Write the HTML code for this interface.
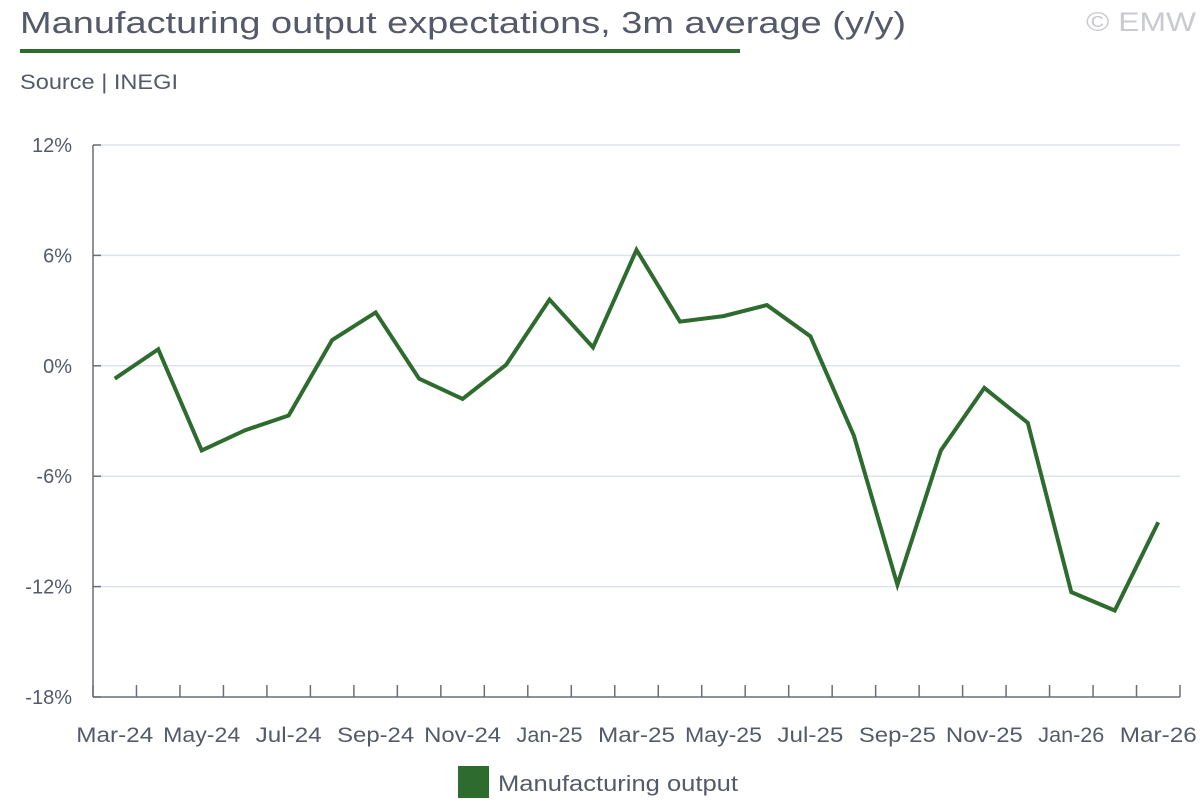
<!DOCTYPE html>
<html><head><meta charset="utf-8"><style>
body{margin:0;background:#fff;width:1200px;height:800px;overflow:hidden;font-family:"Liberation Sans",sans-serif;color:#555a6a}
</style></head><body>
<svg width="1200" height="800" font-family="Liberation Sans, sans-serif">
<text x="20" y="33" font-size="31" fill="#555a6a" textLength="886" lengthAdjust="spacingAndGlyphs">Manufacturing output expectations, 3m average (y/y)</text>
<rect x="20" y="49" width="720" height="4" fill="#2e6b2e"/>
<text x="1086" y="31" font-size="27" fill="#c8cad0" textLength="110" lengthAdjust="spacingAndGlyphs">© EMW</text>
<text x="20" y="89" font-size="21" fill="#555a6a" textLength="158" lengthAdjust="spacingAndGlyphs">Source | INEGI</text>
<g id="grid"></g><g id="axes"></g><g id="series"></g>
<rect x="458" y="766" width="31" height="32" fill="#2e6b2e"/>
<text x="498" y="791" font-size="22" fill="#555a6a" textLength="240" lengthAdjust="spacingAndGlyphs">Manufacturing output</text>
</svg>
<script>
const categories=["Mar-24","Apr-24","May-24","Jun-24","Jul-24","Aug-24","Sep-24","Oct-24","Nov-24","Dec-24","Jan-25","Feb-25","Mar-25","Apr-25","May-25","Jun-25","Jul-25","Aug-25","Sep-25","Oct-25","Nov-25","Dec-25","Jan-26","Feb-26","Mar-26"];
const values=[-0.7,0.9,-4.6,-3.5,-2.7,1.4,2.9,-0.7,-1.8,0.05,3.6,1.0,6.3,2.4,2.7,3.3,1.6,-3.8,-11.9,-4.6,-1.2,-3.1,-12.3,-13.3,-8.5];
const yTicks=[12,6,0,-6,-12,-18];
const NS="http://www.w3.org/2000/svg";
const x0=93,x1=1180,yTop=145,yBot=697,yMax=12,yMin=-18;
const band=(x1-x0)/categories.length;
const xs=i=>x0+band*(i+0.5);
const ys=v=>yTop+(yMax-v)/(yMax-yMin)*(yBot-yTop);
function mk(t,a,p){const e=document.createElementNS(NS,t);for(const k in a)e.setAttribute(k,a[k]);p.appendChild(e);return e;}
const grid=document.getElementById('grid'),axes=document.getElementById('axes'),ser=document.getElementById('series');
yTicks.forEach(v=>{
 const y=ys(v);
 if(v!==yMin){const g=mk('line',{x1:x0,x2:x1,y1:y,y2:y,stroke:'#dde3ec','stroke-width':1.5},grid);
 
 }
 const tk=mk('line',{x1:x0,x2:x0+8,y1:y,y2:y,stroke:'#6a6e7a','stroke-width':1.5},axes);
 
 
 const t=mk('text',{x:72,y:y+7,'font-size':20,fill:'#555a6a','text-anchor':'end'},axes);
 t.textContent=v+'%';
 
 
});
const ya=mk('line',{x1:x0,x2:x0,y1:yTop,y2:yBot,stroke:'#6a6e7a','stroke-width':1.5},axes);


const xa=mk('line',{x1:x0,x2:x1,y1:yBot,y2:yBot,stroke:'#6a6e7a','stroke-width':1.5},axes);


for(let i=0;i<=categories.length;i++){
 const x=x0+band*i;
 const l=mk('line',{x1:x,x2:x,y1:yBot-12,y2:yBot,stroke:'#6a6e7a','stroke-width':1.5},axes);
 
 
}
categories.forEach((c,i)=>{
 if(i%2)return;
 const t=mk('text',{x:xs(i),y:742,'font-size':21,fill:'#555a6a','text-anchor':'middle',textLength:(c.startsWith('Jul')||c.startsWith('Jan'))?66:77,lengthAdjust:'spacingAndGlyphs'},axes);
 t.textContent=c;
 
 
});
const p=mk('polyline',{points:values.map((v,i)=>xs(i)+','+ys(v)).join(' '),fill:'none',stroke:'#2e6b2e','stroke-width':4,'stroke-linejoin':'miter'},ser);


</script>
</body></html>
